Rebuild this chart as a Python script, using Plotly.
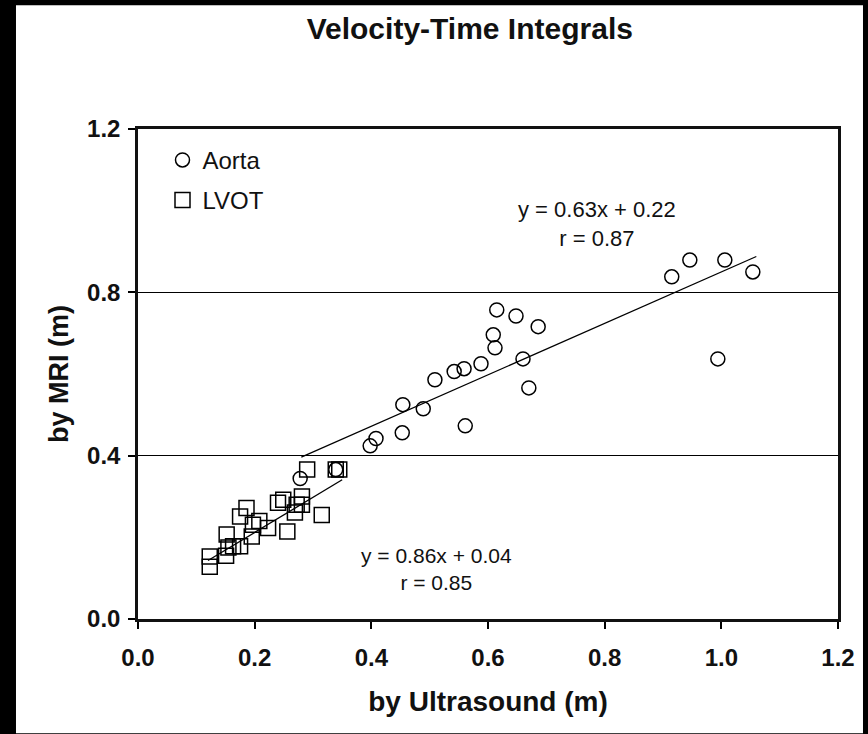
import plotly.graph_objects as go

# ---- data ----
aorta_x = [0.915, 0.946, 1.006, 1.054, 0.994, 0.615, 0.648, 0.686, 0.609, 0.612,
           0.660, 0.670, 0.588, 0.559, 0.542, 0.509, 0.489, 0.454, 0.453, 0.561,
           0.408, 0.398, 0.278, 0.339]
aorta_y = [0.838, 0.879, 0.879, 0.850, 0.637, 0.757, 0.742, 0.716, 0.696, 0.664,
           0.637, 0.566, 0.625, 0.613, 0.606, 0.586, 0.515, 0.525, 0.456, 0.473,
           0.442, 0.424, 0.344, 0.366]

lvot_x = [0.123, 0.123, 0.151, 0.155, 0.163, 0.175, 0.152, 0.175, 0.186, 0.195,
          0.197, 0.208, 0.223, 0.240, 0.249, 0.256, 0.269, 0.272, 0.281, 0.281,
          0.290, 0.315, 0.339, 0.345]
lvot_y = [0.153, 0.128, 0.155, 0.175, 0.178, 0.178, 0.207, 0.251, 0.272, 0.202,
          0.231, 0.240, 0.223, 0.285, 0.292, 0.214, 0.261, 0.280, 0.300, 0.280,
          0.366, 0.255, 0.366, 0.366]

# regression fits as printed on the chart
aorta_fit = {"slope": 0.63, "intercept": 0.22, "r": 0.87, "x_range": [0.28, 1.06]}
lvot_fit = {"slope": 0.86, "intercept": 0.04, "r": 0.85, "x_range": [0.12, 0.35]}

x_ticks = [0.0, 0.2, 0.4, 0.6, 0.8, 1.0, 1.2]
y_ticks = [0.0, 0.4, 0.8, 1.2]

FONT = "Liberation Sans, Arial, Helvetica, sans-serif"

fig = go.Figure()

fig.add_trace(go.Scatter(
    x=aorta_x, y=aorta_y, mode="markers", name="Aorta", legendgroup="a",
    marker=dict(symbol="circle-open", size=14, color="black", line=dict(width=1.5, color="black")),
))
fig.add_trace(go.Scatter(
    x=lvot_x, y=lvot_y, mode="markers", name="LVOT", legendgroup="b",
    marker=dict(symbol="square-open", size=15, color="black", line=dict(width=1.5, color="black")),
))

for fit in (aorta_fit, lvot_fit):
    xs = fit["x_range"]
    ys = [fit["slope"] * v + fit["intercept"] for v in xs]
    fig.add_trace(go.Scatter(x=xs, y=ys, mode="lines", showlegend=False,
                             line=dict(color="black", width=1.3), hoverinfo="skip"))

fig.add_annotation(x=0.787, y=0.968, xref="x", yref="y", showarrow=False,
                   text=f"y = {aorta_fit['slope']:.2f}x + {aorta_fit['intercept']:.2f}<br>r = {aorta_fit['r']:.2f}",
                   align="center", font=dict(family=FONT, size=22, color="#111"))
fig.add_annotation(x=0.511, y=0.1235, xref="x", yref="y", showarrow=False,
                   text=f"y = {lvot_fit['slope']:.2f}x + {lvot_fit['intercept']:.2f}<br>r = {lvot_fit['r']:.2f}",
                   align="center", font=dict(family=FONT, size=21, color="#111"))

# white page on black surround
fig.add_shape(type="rect", xref="paper", yref="paper", layer="below",
              x0=-0.1743, x1=1.0357, y0=-0.2334, y1=1.2528,
              fillcolor="white", line=dict(width=0))

fig.update_layout(
    width=868, height=734,
    margin=dict(l=138, r=30, t=129, b=115),
    paper_bgcolor="black", plot_bgcolor="white",
    font=dict(family=FONT, color="black"),
    title=dict(text="<b>Velocity-Time Integrals</b>", x=0.474, xref="paper", xanchor="center",
               y=1 - 28 / 734, yref="container", yanchor="middle",
               font=dict(family=FONT, size=30, color="#111")),
    showlegend=True,
    legend=dict(x=0.035, y=0.982, xanchor="left", yanchor="top", bgcolor="rgba(0,0,0,0)",
                borderwidth=0, font=dict(family=FONT, size=24, color="#111"),
                itemwidth=30, tracegroupgap=6),
)

fig.update_xaxes(
    range=[0, 1.2], tickvals=x_ticks, ticktext=[f"<b>{v:.1f}</b>" for v in x_ticks],
    ticks="outside", ticklen=7, tickwidth=1.5, tickcolor="black", ticklabelstandoff=8,
    showline=True, linewidth=2.5, linecolor="#111", mirror=True,
    showgrid=False, zeroline=False,
    tickfont=dict(family=FONT, size=24, color="#111"),
    title=dict(text="<b>by Ultrasound (m)</b>", standoff=22,
               font=dict(family=FONT, size=28, color="#111")),
)
fig.update_yaxes(
    range=[0, 1.2], tickvals=y_ticks, ticktext=[f"<b>{v:.1f}</b>" for v in y_ticks],
    ticks="outside", ticklen=7, tickwidth=1.5, tickcolor="black", ticklabelstandoff=3,
    showline=True, linewidth=2.5, linecolor="#111", mirror=True,
    showgrid=True, gridcolor="black", gridwidth=1.2, zeroline=False,
    tickfont=dict(family=FONT, size=24, color="#111"),
    title=dict(text="<b>by MRI (m)</b>", standoff=11,
               font=dict(family=FONT, size=27, color="#111")),
)

fig.write_html("out.html")
